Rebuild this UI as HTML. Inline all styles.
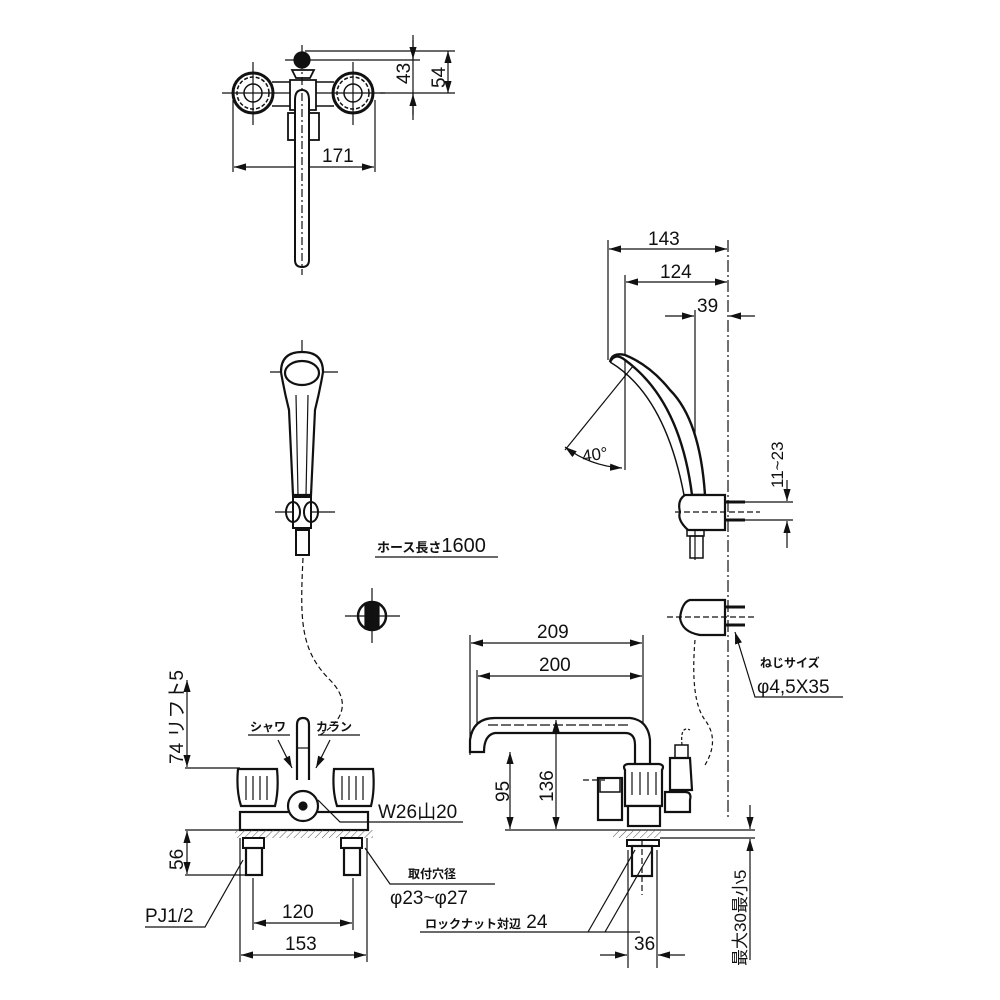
<!DOCTYPE html>
<html><head><meta charset="utf-8"><style>
html,body{margin:0;padding:0;background:#fff}
svg{display:block}
text{font-family:"Liberation Sans","Noto Sans CJK JP",sans-serif;fill:#111}
.n{font-size:19px}
.j{font-size:12px;font-weight:bold}
</style></head><body>
<svg width="1000" height="1000" viewBox="0 0 1000 1000" xmlns="http://www.w3.org/2000/svg">
<defs>
<marker id="a" viewBox="0 0 10 6" refX="10" refY="3" markerWidth="10" markerHeight="6" orient="auto-start-reverse"><path d="M0,0 L10,3 L0,6 z" fill="#111"/></marker>
<pattern id="h" width="5" height="5" patternUnits="userSpaceOnUse" patternTransform="rotate(45)"><line x1="0" y1="0" x2="0" y2="5" stroke="#555" stroke-width="1"/></pattern>
</defs>
<g stroke="#111" fill="none" stroke-width="1.2">
<!-- TOP VIEW -->
<line x1="233" y1="100" x2="233" y2="172"/><line x1="375" y1="100" x2="375" y2="172"/>
<line x1="234" y1="167" x2="374" y2="167" marker-start="url(#a)" marker-end="url(#a)"/>
<line x1="305" y1="51" x2="455" y2="51"/><line x1="285" y1="60" x2="420" y2="60"/><line x1="380" y1="93" x2="455" y2="93"/>
<line x1="413" y1="35" x2="413" y2="120"/><line x1="448" y1="51" x2="448" y2="93" marker-start="url(#a)" marker-end="url(#a)"/>
<line x1="413" y1="40" x2="413" y2="59" marker-end="url(#a)"/><line x1="413" y1="115" x2="413" y2="94" marker-end="url(#a)"/>
<line x1="222" y1="93" x2="385" y2="93"/><line x1="253" y1="62" x2="253" y2="125"/><line x1="353" y1="62" x2="353" y2="125"/>
<g stroke-width="3"><circle cx="253" cy="93" r="20"/><circle cx="353" cy="93" r="20"/></g>
<circle cx="253" cy="93" r="16" stroke-width="1.5" stroke-dasharray="4,2"/><circle cx="353" cy="93" r="16" stroke-width="1.5" stroke-dasharray="4,2"/>
<circle cx="253" cy="93" r="9" stroke-width="1.5"/><circle cx="353" cy="93" r="9" stroke-width="1.5"/>
<path d="M272,82 H292 M314,82 H334 M272,106 H292 M314,106 H334" stroke-width="1.5"/>
<path d="M292,70 L296,78 H310 L314,70 Z M290,80 H316 V110 H290 Z" stroke-width="1.8" fill="#fff"/>
<circle cx="302" cy="60" r="8" fill="#111"/>
<rect x="288" y="113" width="31" height="27" stroke-width="1.8" fill="#fff"/>
<path d="M295,100 Q295,90 302,90 Q309,90 309,100 V260 Q309,267 302,267 Q295,267 295,260 Z" stroke-width="2" fill="#fff"/>
<line x1="302" y1="45" x2="302" y2="275" stroke-dasharray="8,3,2,3"/>
<!-- HANDSHOWER -->
<line x1="302" y1="340" x2="302" y2="395"/><line x1="270" y1="372" x2="338" y2="372"/><line x1="275" y1="512" x2="335" y2="512"/>
<path d="M281,372 Q281,352 302,352 Q323,352 323,372 Q320,390 315,410 L311,495 H293 L289,410 Q284,390 281,372 Z" stroke-width="2.2" fill="#fff"/>
<ellipse cx="302" cy="373" rx="17" ry="12" stroke-width="2.2"/>
<path d="M296,395 L298,495 M308,395 L306,495"/>
<path d="M293,497 H311 V528 H293 Z" stroke-width="2" fill="#fff"/>
<ellipse cx="293" cy="512" rx="7" ry="10" stroke-width="2"/><ellipse cx="311" cy="512" rx="7" ry="10" stroke-width="2"/>
<rect x="296" y="530" width="13" height="25" stroke-width="2"/>
<path d="M303,558 C300,620 300,650 330,680 C350,700 345,720 320,735" stroke-dasharray="5,3"/>
<line x1="375" y1="557" x2="498" y2="557"/>
<circle cx="372" cy="616" r="14" stroke-width="2.5"/><rect x="365" y="603" width="14" height="26" fill="#111"/>
<line x1="372" y1="588" x2="372" y2="643"/><line x1="345" y1="616" x2="400" y2="616"/>
<!-- SIDE SHOWER -->
<line x1="608" y1="240" x2="608" y2="360"/><line x1="625" y1="275" x2="625" y2="470"/><line x1="695" y1="310" x2="695" y2="560"/>
<line x1="728" y1="240" x2="728" y2="820" stroke-dasharray="12,3,2,3"/>
<line x1="609" y1="249" x2="727" y2="249" marker-start="url(#a)" marker-end="url(#a)"/>
<line x1="626" y1="282" x2="727" y2="282" marker-start="url(#a)" marker-end="url(#a)"/>
<line x1="665" y1="316" x2="694" y2="316" marker-end="url(#a)"/><line x1="755" y1="316" x2="729" y2="316" marker-end="url(#a)"/>
<path d="M638,360 L565,450"/><path d="M565,447 Q590,466 622,468" marker-start="url(#a)" marker-end="url(#a)"/>
<path d="M610,362 Q615,352 625,360 Q680,400 692,495 L705,495 Q700,420 670,390 Q650,365 625,355 Q612,352 610,362 Z" stroke-width="2.4" fill="#fff"/>
<path d="M610,362 Q665,395 684,495" stroke-width="1.5"/>
<path d="M685,495 H725 V530 H688 Q677,520 680,512 Q677,500 685,495 Z" stroke-width="2.2" fill="#fff"/>
<rect x="687" y="530" width="17" height="6" stroke-width="1.5"/><rect x="690" y="536" width="13" height="22" stroke-width="1.5"/>
<path d="M725,502 H745 M725,520 H745" stroke-width="3"/>
<line x1="675" y1="512" x2="760" y2="512" stroke-dasharray="6,3"/>
<line x1="730" y1="502" x2="793" y2="502"/><line x1="730" y1="520" x2="793" y2="520"/>
<line x1="787" y1="480" x2="787" y2="501" marker-end="url(#a)"/><line x1="787" y1="548" x2="787" y2="521" marker-end="url(#a)"/>
<path d="M690,600 H725 V635 H700 Q682,632 680,618 Q682,602 690,600 Z" stroke-width="2.2" fill="#fff"/>
<path d="M725,607 H745 M725,625 H745" stroke-width="3"/>
<line x1="667" y1="617" x2="755" y2="617" stroke-dasharray="6,3"/>
<path d="M695,640 Q690,700 705,720 Q720,740 705,765" stroke-dasharray="4,3"/>
<polyline points="735,632 755,697 843,697" marker-start="url(#a)"/>
<!-- FRONT FAUCET -->
<line x1="187" y1="680" x2="187" y2="767" marker-start="url(#a)" marker-end="url(#a)"/>
<line x1="187" y1="831" x2="187" y2="874" marker-start="url(#a)" marker-end="url(#a)"/>
<line x1="185" y1="768" x2="240" y2="768"/><line x1="185" y1="830" x2="240" y2="830"/><line x1="185" y1="875" x2="245" y2="875"/>
<line x1="248" y1="735" x2="290" y2="735"/><line x1="318" y1="735" x2="360" y2="735"/>
<line x1="278" y1="740" x2="292" y2="768" marker-end="url(#a)"/><line x1="330" y1="740" x2="316" y2="768" marker-end="url(#a)"/>
<rect x="240" y="812" width="128" height="18" stroke-width="2.2" fill="#fff"/>
<rect x="235" y="830" width="138" height="8" fill="url(#h)" stroke="none"/>
<path d="M238,769 H277 Q279,790 275,806 H241 Q236,790 238,769 Z" stroke-width="2.2" fill="#fff"/>
<path d="M334,769 H373 Q375,790 371,806 H337 Q332,790 334,769 Z" stroke-width="2.2" fill="#fff"/>
<path d="M246,776 V800 M253,776 V800 M260,776 V800 M267,776 V800 M342,776 V800 M349,776 V800 M356,776 V800 M363,776 V800"/>
<path d="M297,780 V725 Q297,718 303,718 Q309,718 309,725 V780" stroke-width="2.2" fill="#fff"/>
<line x1="297" y1="748" x2="309" y2="748"/>
<circle cx="303" cy="806" r="15" stroke-width="2.2" fill="#fff"/><circle cx="303" cy="806" r="4" fill="#111"/>
<rect x="243" y="838" width="21" height="10" stroke-width="2"/><rect x="341" y="838" width="21" height="10" stroke-width="2"/>
<rect x="246" y="848" width="16" height="27" stroke-width="2.2"/><rect x="344" y="848" width="16" height="27" stroke-width="2.2"/>
<line x1="253" y1="878" x2="253" y2="930"/><line x1="353" y1="878" x2="353" y2="930"/>
<line x1="240" y1="838" x2="240" y2="962"/><line x1="367" y1="838" x2="367" y2="962"/>
<line x1="254" y1="923" x2="352" y2="923" marker-start="url(#a)" marker-end="url(#a)"/>
<line x1="241" y1="955" x2="366" y2="955" marker-start="url(#a)" marker-end="url(#a)"/>
<polyline points="145,927 205,927 243,860"/>
<polyline points="318,800 340,822 463,822"/>
<polyline points="365,848 390,884 495,884"/>
<line x1="420" y1="932" x2="640" y2="932"/>
<!-- SIDE FAUCET -->
<line x1="470" y1="635" x2="470" y2="755"/><line x1="477" y1="670" x2="477" y2="740"/><line x1="643" y1="635" x2="643" y2="745"/>
<line x1="471" y1="643" x2="642" y2="643" marker-start="url(#a)" marker-end="url(#a)"/>
<line x1="478" y1="676" x2="642" y2="676" marker-start="url(#a)" marker-end="url(#a)"/>
<path d="M470,752 V740 Q473,718 495,718 H630 Q648,720 650,740 V770 H635 V745 Q635,733 625,733 H495 Q484,735 484,752 Z" stroke-width="2.2" fill="#fff"/>
<line x1="488" y1="725" x2="630" y2="725" stroke-dasharray="10,3"/>
<line x1="505" y1="830" x2="755" y2="830"/>
<line x1="510" y1="752" x2="510" y2="829" marker-start="url(#a)" marker-end="url(#a)"/>
<line x1="556" y1="720" x2="556" y2="829" marker-start="url(#a)" marker-end="url(#a)"/>
<rect x="598" y="778" width="24" height="42" stroke-width="2.2" fill="#fff"/><rect x="600" y="778" width="20" height="14" stroke-width="1.5"/>
<path d="M625,770 Q622,765 628,764 H659 Q665,765 662,770 V806 H625 Z" stroke-width="2.2" fill="#fff"/>
<path d="M632,772 V795 M640,772 V795 M648,772 V795 M656,772 V795"/>
<rect x="628" y="806" width="32" height="20" stroke-width="2.2" fill="#fff"/>
<path d="M665,792 H685 Q692,792 690,800 V812 H665 Z" stroke-width="2.2" fill="#fff"/>
<path d="M670,758 H690 L692,790 H670 Z" stroke-width="2.2" fill="#fff"/><rect x="675" y="745" width="13" height="13" stroke-width="1.5"/>
<path d="M682,745 Q680,725 690,730" stroke-dasharray="3,2"/>
<rect x="613" y="830" width="48" height="8" fill="url(#h)" stroke="none"/>
<rect x="627" y="840" width="32" height="6" stroke-width="2"/><rect x="632" y="846" width="20" height="30" stroke-width="2.2"/>
<line x1="642" y1="840" x2="642" y2="895" stroke-dasharray="6,3"/>
<line x1="583" y1="780" x2="605" y2="780" stroke-dasharray="6,3"/>
<line x1="628" y1="850" x2="628" y2="968"/><line x1="657" y1="850" x2="657" y2="968"/>
<line x1="600" y1="955" x2="627" y2="955" marker-end="url(#a)"/><line x1="685" y1="955" x2="658" y2="955" marker-end="url(#a)"/>
<line x1="588" y1="932" x2="635" y2="850"/><line x1="605" y1="932" x2="652" y2="850"/>
<line x1="660" y1="838" x2="755" y2="838"/>
<line x1="750" y1="805" x2="750" y2="829" marker-end="url(#a)"/><line x1="750" y1="860" x2="750" y2="839" marker-end="url(#a)"/>
<line x1="750" y1="860" x2="750" y2="960"/>
</g>
<!-- TEXT -->
<text class="n" x="322" y="162">171</text>
<text class="n" transform="translate(410,84) rotate(-90)">43</text>
<text class="n" transform="translate(445,88) rotate(-90)">54</text>
<text class="n" x="648" y="245">143</text>
<text class="n" x="660" y="278">124</text>
<text class="n" x="697" y="312">39</text>
<text class="n" transform="translate(583,462) rotate(-8)" style="font-size:17px">40°</text>
<text class="n" transform="translate(783,488) rotate(-90)" style="font-size:17px">11~23</text>
<text class="j" x="377" y="552" style="font-size:13px">ホース長さ<tspan class="n" style="font-weight:normal;font-size:20px">1600</tspan></text>
<text class="j" x="760" y="667">ねじサイズ</text>
<text class="n" x="757" y="693">φ4,5X35</text>
<text class="n" x="537" y="638">209</text>
<text class="n" x="539" y="671">200</text>
<text class="n" transform="translate(509,802) rotate(-90)">95</text>
<text class="n" transform="translate(553,802) rotate(-90)">136</text>
<text class="n" transform="translate(183,764) rotate(-90)">74 リフト5</text>
<text class="n" transform="translate(183,870) rotate(-90)">56</text>
<text class="j" x="250" y="731">シャワ</text>
<text class="j" x="316" y="731">カラン</text>
<text class="n" x="378" y="818">W26山20</text>
<text class="j" x="408" y="878">取付穴径</text>
<text class="n" x="390" y="904">φ23~φ27</text>
<text class="j" x="425" y="928">ロックナット対辺<tspan class="n" style="font-weight:normal"> 24</tspan></text>
<text class="n" x="145" y="922">PJ1/2</text>
<text class="n" x="282" y="918">120</text>
<text class="n" x="285" y="950">153</text>
<text class="n" x="634" y="950">36</text>
<text class="n" transform="translate(746,966) rotate(-90)" style="font-size:17px">最大30最小5</text>
</svg>
</body></html>
